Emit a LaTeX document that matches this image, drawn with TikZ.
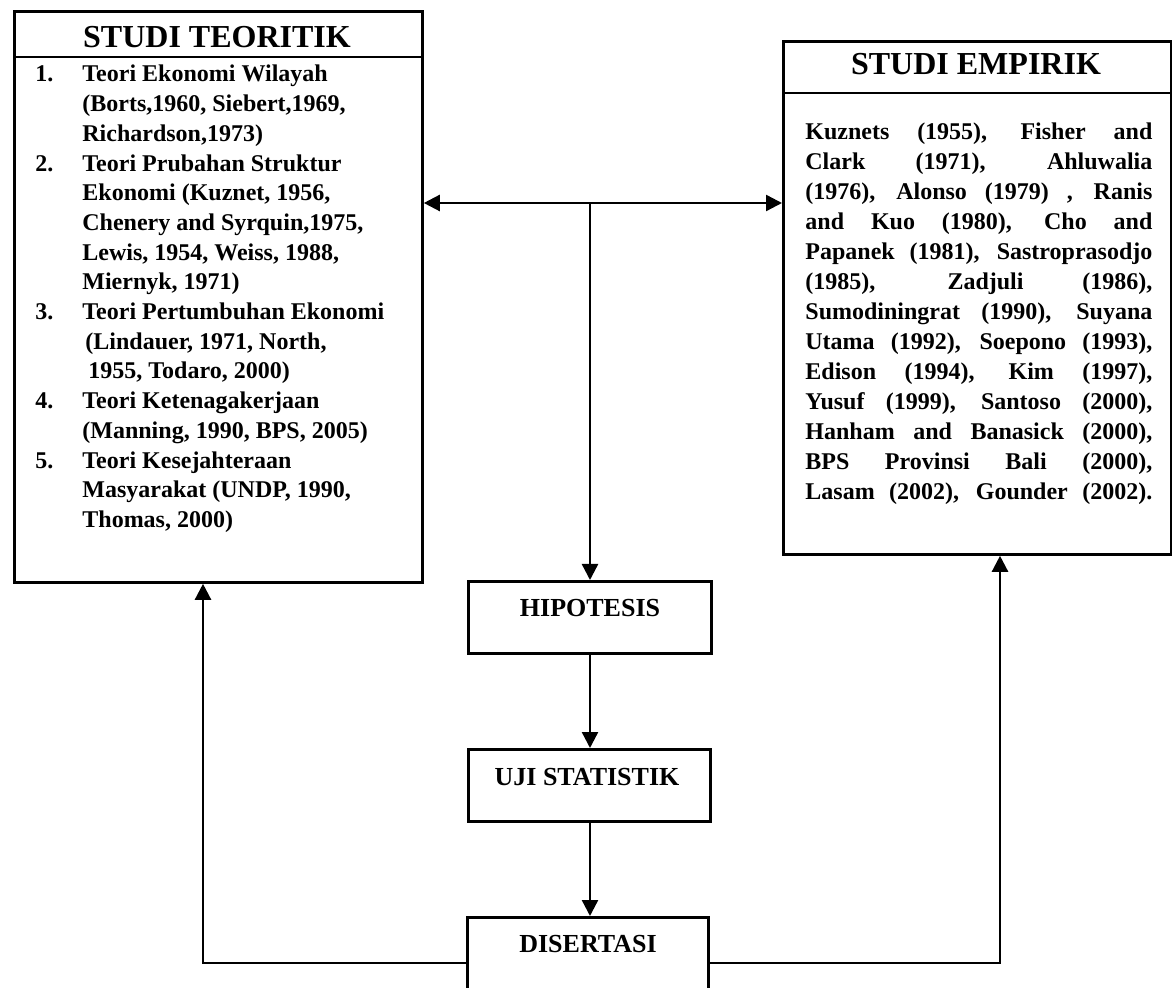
\documentclass[tikz,border=0pt]{standalone}
\usepackage{fontspec}
\setmainfont{Liberation Serif}
\usetikzlibrary{arrows.meta}
\begin{document}
\begin{tikzpicture}[x=0.5pt,y=-0.5pt,
  box/.style={draw, line width=1.4pt, inner sep=0pt, anchor=north west},
  tip/.style={Triangle[length=8pt,width=8pt]},
  conn/.style={line width=1.2pt, -{Triangle[length=8pt,width=8pt]}},
  body/.style={anchor=base west, inner sep=0pt, font=\bfseries\fontsize{12}{14}\selectfont},
  ttl/.style={anchor=base, inner sep=0pt, font=\bfseries\fontsize{16}{18}\selectfont},
  lbl/.style={anchor=base, inner sep=0pt, font=\bfseries\fontsize{13}{15}\selectfont}]
\useasboundingbox (0,0) rectangle (1172,988);

% ---- left box: theory ----
\node[box, minimum width=204pt, minimum height=285.5pt] (teo) at (13,10) {};
\draw[line width=1.4pt] (13,57) -- (421,57);
\node[ttl] (teoT) at (217,48) {STUDI TEORITIK};
\foreach \t [count=\k from 0] in {
  {Teori Ekonomi Wilayah},
  {(Borts,1960, Siebert,1969,},
  {Richardson,1973)},
  {Teori Prubahan Struktur},
  {Ekonomi (Kuznet, 1956,},
  {Chenery and Syrquin,1975,},
  {Lewis, 1954, Weiss, 1988,},
  {Miernyk, 1971)},
  {Teori Pertumbuhan Ekonomi},
  {\hspace{1.5pt}(Lindauer, 1971, North,},
  {\hspace{3pt}1955, Todaro, 2000)},
  {Teori Ketenagakerjaan},
  {(Manning, 1990, BPS, 2005)},
  {Teori Kesejahteraan},
  {Masyarakat (UNDP, 1990,},
  {Thomas, 2000)}}
  \node[body] (tl\k) at (82,82+29.7*\k) {\t};
\node[body] (n1) at (35,82) {1.};
\node[body] (n2) at (35,82+29.7*3) {2.};
\node[body] (n3) at (35,82+29.7*8) {3.};
\node[body] (n4) at (35,82+29.7*11) {4.};
\node[body] (n5) at (35,82+29.7*13) {5.};

% ---- right box: empirical studies ----
\node[box, minimum width=194pt, minimum height=256.5pt] (emp) at (782,40) {};
\draw[line width=1.4pt] (782,93) -- (1170,93);
\node[ttl] (empT) at (976,75) {STUDI EMPIRIK};
\foreach \t [count=\k from 0] in {
  {Kuznets (1955), Fisher and},
  {Clark (1971), Ahluwalia},
  {(1976), Alonso (1979) , Ranis},
  {and Kuo (1980), Cho and},
  {Papanek (1981), Sastroprasodjo},
  {(1985), Zadjuli (1986),},
  {Sumodiningrat (1990), Suyana},
  {Utama (1992), Soepono (1993),},
  {Edison (1994), Kim (1997),},
  {Yusuf (1999), Santoso (2000),},
  {Hanham and Banasick (2000),},
  {BPS Provinsi Bali (2000),},
  {Lasam (2002), Gounder (2002).}}
  \node[body] (el\k) at (805,140+30*\k) {\makebox[173.5pt][s]{\t}};

% ---- central chain ----
\node[box, minimum width=121.5pt, minimum height=36pt] (hip) at (467,580) {};
\node[lbl] (hipT) at (590,617) {HIPOTESIS};
\node[box, minimum width=121pt, minimum height=36pt] (uji) at (467,748) {};
\node[lbl] (ujiT) at (587,785) {UJI STATISTIK};
\node[box, minimum width=120.5pt, minimum height=50pt] (dis) at (466,916) {};
\node[lbl] (disT) at (588,952) {DISERTASI};

% ---- connectors ----
\coordinate (hz) at (590,203);
\coordinate (lc) at (203,963);
\coordinate (rc) at (1000,963);
\draw[line width=1.2pt, {Triangle[length=8pt,width=8pt]}-{Triangle[length=8pt,width=8pt]}]
  (teo.east |- hz) -- (emp.west |- hz);
\draw[conn] (hz) -- (hz |- hip.north);
\draw[conn] (hz |- hip.south) -- (hz |- uji.north);
\draw[conn] (hz |- uji.south) -- (hz |- dis.north);
\draw[conn] (dis.west |- lc) -- (lc) -- (teo.south -| lc);
\draw[conn] (dis.east |- rc) -- (rc) -- (emp.south -| rc);
\end{tikzpicture}
\end{document}
